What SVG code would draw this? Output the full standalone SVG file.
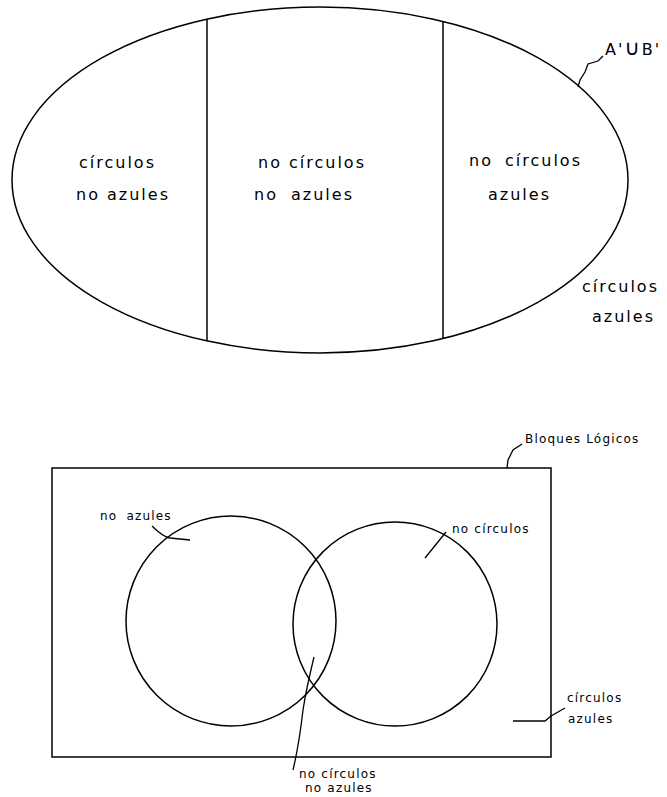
<svg xmlns="http://www.w3.org/2000/svg" width="667" height="797" viewBox="0 0 667 797">
<style>
.ln{fill:none;stroke:#000;stroke-width:1.5}
.lead{fill:none;stroke:#000;stroke-width:1.3}
.big{font-family:"DejaVu Sans","Liberation Sans",sans-serif;font-size:16px;letter-spacing:2px;fill:#000}
.sm{font-family:"DejaVu Sans","Liberation Sans",sans-serif;font-size:12px;letter-spacing:1.2px;fill:#000}
</style>
<rect width="667" height="797" fill="#fff"/>
<g id="ellipse-diagram">
  <g id="ellipse"><ellipse class="ln" cx="320" cy="180" rx="308" ry="173"/></g>
  <g id="dividers"><line class="ln" x1="207" y1="19" x2="207" y2="341"/><line class="ln" x1="443" y1="21" x2="443" y2="339"/></g>
  <g id="region-left"><text class="big" x="79" y="168">círculos</text><text class="big" x="76" y="200">no azules</text></g>
  <g id="region-middle"><text class="big" x="258" y="168">no círculos</text><text class="big" x="254" y="200">no <tspan dx="6">azules</tspan></text></g>
  <g id="region-right"><text class="big" x="469" y="166">no <tspan dx="5">círculos</tspan></text><text class="big" x="488" y="200">azules</text></g>
  <g id="label-union"><text class="big" x="605" y="55" letter-spacing="0">A'<tspan font-size="21">∪</tspan>B'</text></g>
  <g id="label-outside"><text class="big" x="582" y="292">círculos</text><text class="big" x="592" y="322">azules</text></g>
</g>
<g id="venn-diagram">
  <g id="universe"><rect class="ln" x="52" y="468" width="499" height="289"/></g>
  <g id="set-no-azules"><circle class="ln" cx="231" cy="621" r="105"/></g>
  <g id="set-no-circulos"><circle class="ln" cx="395" cy="624" r="102"/></g>
  <g id="label-bloques"><text class="sm" x="525" y="443">Bloques Lógicos</text></g>
  <g id="label-no-azules"><text class="sm" x="100" y="520">no <tspan dx="4">azules</tspan></text></g>
  <g id="label-no-circulos"><text class="sm" x="452" y="533">no círculos</text></g>
  <g id="label-circulos-azules"><text class="sm" x="567" y="702">círculos</text><text class="sm" x="568" y="723">azules</text></g>
  <g id="label-interseccion"><text class="sm" x="299" y="778">no círculos</text><text class="sm" x="305" y="792">no azules</text></g>
</g>
<g id="connectors">
  <path class="lead" d="M578,87 L580,80 L585,72 L588,64 L598,61 L603,56"/>
  <path class="lead" d="M507,468 L508,460 L513,450 L522,444"/>
  <path class="lead" d="M152,526 Q163,537 170,538 L190,540"/>
  <path class="lead" d="M446,532 L425,558"/>
  <path class="lead" d="M314,657 Q306,690 303,710 Q299,745 293,770"/>
  <path class="lead" d="M513,721 L545,721 L551,716 L565,708"/>
</g>
</svg>
